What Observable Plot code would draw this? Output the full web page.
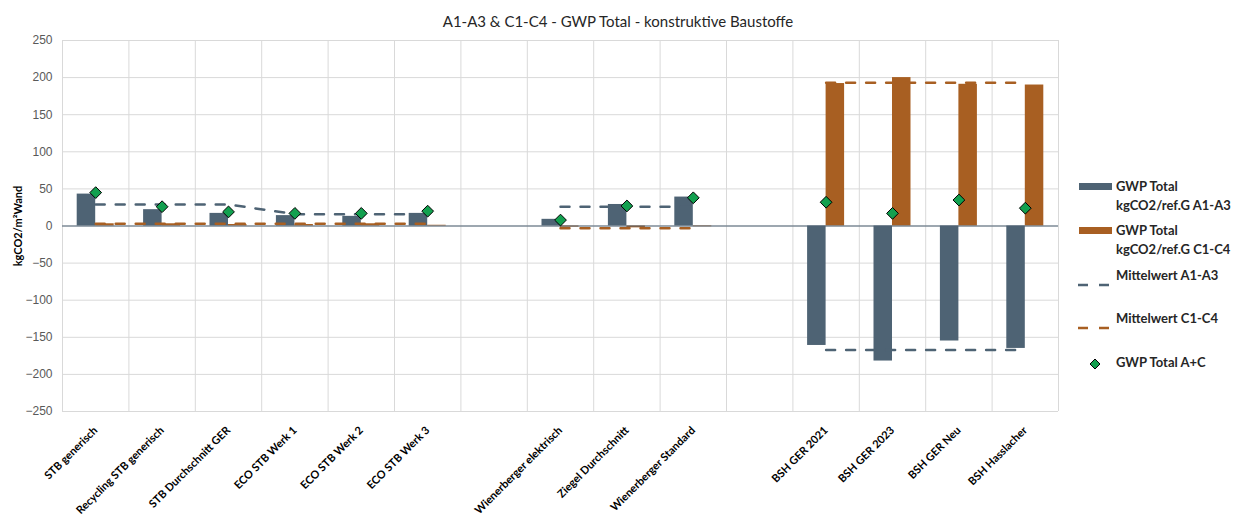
<!DOCTYPE html>
<html><head><meta charset="utf-8">
<script src="https://cdn.jsdelivr.net/npm/d3@7"></script>
<script src="https://cdn.jsdelivr.net/npm/@observablehq/plot@0.6"></script>
<style>
body{margin:0;background:#fff;}
#wrap{position:relative;width:1246px;height:515px;font-family:Lato,"Open Sans",sans-serif;overflow:hidden;}
#chart{position:absolute;left:0;top:0;}
#title{position:absolute;left:0;top:12px;width:1236px;text-align:center;font-size:15px;color:#262626;white-space:nowrap;}
#ylab{position:absolute;left:17px;top:226px;transform:translate(-50%,-50%) rotate(-90deg);font-size:11px;font-weight:bold;color:#000;white-space:nowrap;}
.lg{position:absolute;font-size:13px;font-weight:bold;color:#262626;white-space:nowrap;line-height:19px;}
.sw{position:absolute;}
</style></head><body>
<div id="wrap">
<div id="chart"></div>
<div id="title">A1-A3 &amp; C1-C4 - GWP Total - konstruktive Baustoffe</div>
<div id="ylab">kgCO2/m²Wand</div>
<div id="legend"></div>
</div>
<script>
// ---- data ----
const categories = ["STB generisch","Recycling STB generisch","STB Durchschnitt GER","ECO STB Werk 1","ECO STB Werk 2","ECO STB Werk 3"," ","Wienerberger elektrisch","Ziegel Durchschnitt","Wienerberger Standard","  ","BSH GER 2021","BSH GER 2023","BSH GER Neu","BSH Hasslacher"];
const gwpA  = [43, 22, 17, 14, 13, 17, null, 9, 29, 39, null, -161, -182, -155, -165];
const gwpC  = [3, 3, 2, 2, 3, 1, null, -1.5, -2.5, -1, null, 192, 200, 191, 190];
const gwpAC = [45, 26, 19, 17, 17, 20, null, 8, 27, 38, null, 32, 17, 35, 24];
const meanA = [29, 29, 29, 16, 16, 16, null, 26, 26, 26, null, -167, -167, -167, -167];
const meanC = [3, 3, 3, 3, 3, 3, null, -3, -3, -3, null, 193, 193, 193, 193];
const yTicks = [-250,-200,-150,-100,-50,0,50,100,150,200,250];
const seriesNames = ["GWP Total\nkgCO2/ref.G A1-A3","GWP Total\nkgCO2/ref.G C1-C4","Mittelwert A1-A3","Mittelwert C1-C4","GWP Total A+C"];

// ---- style ----
const colA = "#4e6374", colC = "#a85f22", colD = "#12a04f", grid = "#d9d9d9";
const W = 1246, H = 515, ML = 62, MR = 188, MT = 40, MB = 104;
const bw = (W - ML - MR) / categories.length;
const barW = 18.5;

const rows = categories.map((cat, i) => ({cat, a: gwpA[i], c: gwpC[i], ac: gwpAC[i], ma: meanA[i], mc: meanC[i]}));
const real = rows.filter(r => r.a != null);

const chart = Plot.plot({
  width: W, height: H, marginLeft: ML, marginRight: MR, marginTop: MT, marginBottom: MB,
  style: {fontFamily: "Lato, sans-serif", background: "transparent"},
  x: {domain: categories, padding: 0, round: false, label: null},
  y: {domain: [-250, 250], label: null},
  marks: [
    Plot.ruleY(yTicks, {stroke: grid, strokeWidth: 1}),
    Plot.ruleX(categories, {x: d => d, dx: -bw / 2, y1: -250, y2: 250, stroke: grid}),
    Plot.ruleX([categories[categories.length - 1]], {x: d => d, dx: bw / 2, y1: -250, y2: 250, stroke: grid}),
    Plot.barY(real, {x: "cat", y: "a", fill: colA, insetLeft: bw / 2 - barW, insetRight: bw / 2}),
    Plot.barY(real, {x: "cat", y: "c", fill: colC, insetLeft: bw / 2, insetRight: bw / 2 - barW}),
    Plot.ruleY([0], {stroke: colA, strokeWidth: 1}),
    Plot.line(rows, {x: "cat", y: "ma", stroke: colA, strokeWidth: 2.5, strokeDasharray: "9,11"}),
    Plot.line(rows, {x: "cat", y: "mc", stroke: colC, strokeWidth: 2.5, strokeDasharray: "9,11"}),
    Plot.dot(real, {x: "cat", y: "ac", symbol: "diamond2", r: 5.3, fill: colD, stroke: "#000", strokeWidth: 1}),
    Plot.axisY(yTicks, {tickSize: 0, tickPadding: 10, fontSize: 12, fill: "#595959", fontFamily: "Liberation Sans, Arial, sans-serif", label: null}),
    Plot.axisX({tickSize: 0, tickPadding: 17, tickRotate: -45, fontSize: 11, fontWeight: "bold", fill: "#000", label: null, tickFormat: d => d.trim()})
  ]
});
document.getElementById("chart").appendChild(chart);

// ---- legend ----
const lg = document.getElementById("legend");
const items = [
  {type: "rect", color: colA, y: 183, text: seriesNames[0]},
  {type: "rect", color: colC, y: 227, text: seriesNames[1]},
  {type: "dash", color: colA, y: 275, text: seriesNames[2]},
  {type: "dash", color: colC, y: 318, text: seriesNames[3]},
  {type: "dot", color: colD, y: 362, text: seriesNames[4]}
];
items.forEach(it => {
  const sw = document.createElement("div");
  sw.className = "sw";
  if (it.type === "rect") {
    sw.style.cssText = `left:1079px;top:${it.y}px;width:33px;height:7px;background:${it.color}`;
  } else if (it.type === "dash") {
    sw.style.cssText = `left:1078px;top:${it.y - 3}px;width:34px;height:6px`;
    sw.innerHTML = `<svg width="34" height="6"><line x1="0" x2="31" y1="3" y2="3" stroke="${it.color}" stroke-width="2.5" stroke-dasharray="10,11"/></svg>`;
  } else {
    sw.style.cssText = `left:1088px;top:${it.y - 7}px;width:14px;height:14px`;
    sw.innerHTML = `<svg width="14" height="14"><path d="M7,2L12,7L7,12L2,7Z" fill="${it.color}" stroke="#000" stroke-width="1"/></svg>`;
  }
  lg.appendChild(sw);
  const t = document.createElement("div");
  t.className = "lg";
  const lines = it.text.split("\n");
  const top0 = it.type === "rect" ? it.y + 3.5 - 9.5 : it.y - 9.5;
  t.style.left = "1116px";
  t.style.top = top0 + "px";
  t.innerHTML = lines.map(s => `<div>${s}</div>`).join("");
  lg.appendChild(t);
});
</script>
</body></html>
